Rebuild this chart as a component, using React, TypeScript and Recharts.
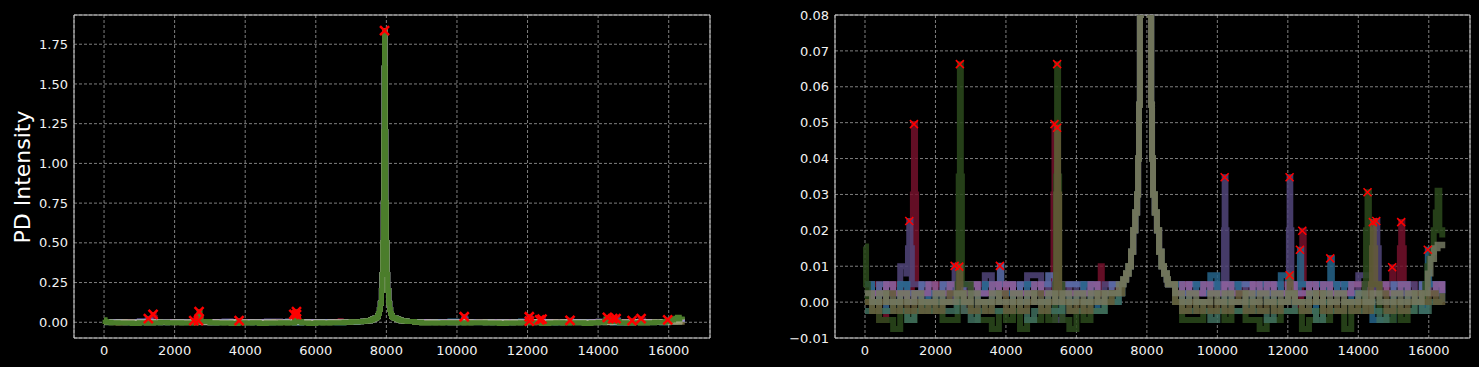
import {
  CartesianGrid,
  ComposedChart,
  Line,
  ReferenceArea,
  Scatter,
  XAxis,
  YAxis,
} from "recharts";

const sampleX = [
  0, 200, 400, 600, 800, 1000, 1200, 1400, 1600, 1800,
  2000, 2200, 2400, 2600, 2800, 3000, 3200, 3400, 3600, 3800,
  4000, 4200, 4400, 4600, 4800, 5000, 5200, 5400, 5600, 5800,
  6000, 6200, 6400, 6600, 6800, 7000, 7200, 7400, 7600, 7800,
  8000, 8200, 8400, 8600, 8800, 9000, 9200, 9400, 9600, 9800,
  10000, 10200, 10400, 10600, 10800, 11000, 11200, 11400, 11600, 11800,
  12000, 12200, 12400, 12600, 12800, 13000, 13200, 13400, 13600, 13800,
  14000, 14200, 14400, 14600, 14800, 15000, 15200, 15400, 15600, 15800,
  16000, 16200, 16383,
];

// the big resonance every trace shares
const mainPeakX = [
  7300, 7330, 7410, 7480, 7550, 7610, 7670, 7722, 7750, 7776,
  7803, 7830, 7860, 7880, 7900, 7915, 7930, 7940, 7948, 7956,
  7966, 7981, 7996, 8016, 8036, 8066, 8093, 8120, 8146, 8174,
  8226, 8286, 8346, 8416, 8486, 8566, 8596,
];
const mainPeakY = [
  0.005, 0.0063, 0.008, 0.01, 0.014, 0.02, 0.025, 0.03, 0.04, 0.055,
  0.08, 0.12, 0.2, 0.3, 0.5, 0.75, 1.2, 1.6, 1.835, 1.6,
  1.2, 0.75, 0.5, 0.3, 0.2, 0.12, 0.08, 0.055, 0.04, 0.03,
  0.025, 0.02, 0.014, 0.01, 0.008, 0.0063, 0.005,
];

const redNoise = [
  0.0025, 0.005, -0.005, 0.0025, 0.005, 0.0025, 0.0025, 0.005, 0.0025, 0.0025,
  0.005, 0.0025, 0.005, 0.005, -0.0025, 0.0025, 0.005, 0.0025, 0.0025, 0.005,
  0.0025, 0.0025, 0.005, 0.0025, 0.0025, 0.005, 0.0025, 0.0025, 0.005, 0.0025,
  0.0025, 0.005, 0.0025, 0.0025, 0.005, 0.0025, 0.005, 0.0025, 0.0025, 0.0025,
  0.0025, 0.0025, 0.0025, 0.0025, 0.0025, 0.005, 0.0025, 0.0025, 0.005, 0.0025,
  0.005, 0.0025, 0.0025, 0.005, 0.0025, 0.0025, 0.005, 0.0025, 0.0025, 0.005,
  0.0025, -0.0025, 0.0025, 0.005, 0.0025, 0.0025, 0.005, 0.0025, 0.0025, 0.005,
  0.0025, 0.005, 0.0025, 0.0025, 0.005, 0.0025, 0.0025, 0.005, 0.0025, 0.0025,
  0.005, 0.0025, 0.0025,
];
const redPeaks = [
  [1330, 0.005], [1360, 0.03], [1389, 0.0496], [1420, 0.03], [1450, 0.005],
  [5320, 0.005], [5350, 0.03], [5378, 0.0496], [5400, 0.03], [5430, 0.005],
  [6660, 0.005], [6690, 0.01], [6720, 0.005],
  [12380, 0.005], [12410, 0.0199], [12450, 0.005],
  [14920, 0.005], [14962, 0.0097], [15000, 0.005],
  [15150, 0.005], [15180, 0.015], [15217, 0.0223], [15250, 0.015], [15290, 0.005],
];

const purpleNoise = [
  0.0025, 0, 0.0025, 0.005, 0.0025, 0.01, 0.0025, 0.005, 0, 0.0025,
  0.0025, 0.005, 0, 0.0025, 0.005, 0.0025, 0.0025, 0.0075, 0.005, 0.0025,
  0.0025, 0.005, 0.0025, 0.0075, 0.0075, 0.0025, 0.005, -0.005, 0.0025, 0.005,
  0.0025, 0.005, 0.0025, 0.0025, 0.005, 0.005, 0.005, 0.0025, 0.0025, 0.0025,
  0.0025, 0.0025, 0.0025, 0.0025, 0.005, 0.0025, 0.005, 0.0025, 0.0025, 0.005,
  0.0025, 0.0025, 0.005, 0.0025, 0.005, 0.0025, 0.0025, 0.005, 0.0025, 0.0025,
  0.005, 0.0025, 0.0025, 0.005, 0.0025, 0.0025, 0.005, 0.0025, 0.005, 0.0025,
  0.0075, 0.0075, 0.0025, 0.0025, 0.005, 0.0025, 0.0025, 0.005, 0.0025, 0.005,
  0.0025, 0.005, 0.0025,
];
const purplePeaks = [
  [1180, 0.008], [1220, 0.015], [1256, 0.0226], [1290, 0.015], [1330, 0.005],
  [2500, 0.005], [2543, 0.0101], [2580, 0.005],
  [10170, 0.005], [10190, 0.02], [10207, 0.0348], [10230, 0.02], [10260, 0.005],
  [12010, 0.005], [12030, 0.02], [12050, 0.0348], [12070, 0.02], [12100, 0.005],
  [14460, 0.005], [14480, 0.015], [14509, 0.0226], [14540, 0.015], [14580, 0.005],
];

const blueNoise = [
  0.005, 0.0025, 0.005, 0.0025, 0, 0.005, 0.0025, 0.0025, 0.005, 0.0025,
  0.0025, 0.005, 0.0025, 0.0025, 0.005, 0.005, 0.0025, 0.005, 0.0025, 0.005,
  0.005, 0.0025, 0.005, 0.005, 0.0025, 0.005, 0.0075, 0.0025, 0.005, 0.005,
  0.005, 0.0025, 0.005, 0.0025, 0.0025, 0.005, 0.005, 0.0025, 0.0025, 0.0025,
  0.0025, 0.0025, 0.0025, 0.0025, 0.005, 0.0025, 0.005, 0.005, 0.0025, 0.005,
  0.0025, 0.005, 0.0025, 0.005, 0.005, 0.0025, 0.005, 0.0025, 0.005, 0.0025,
  0.0025, 0.005, 0.005, 0.0025, 0.005, 0.0025, 0.0025, 0.005, 0.005, 0.0025,
  0.0025, 0.005, 0.005, 0.0025, 0.0025, 0.005, 0.005, 0.0025, 0.0025, 0.005,
  0.005, 0.005, 0.0025,
];
const bluePeaks = [[3790, 0.005], [3828, 0.0101], [3870, 0.005]];

const tealNoise = [
  0.005, 0, 0.0025, -0.0025, 0.0025, 0.005, 0, 0.0025, -0.0025, 0.0025,
  0, 0.0025, 0.005, 0.0025, 0, -0.0025, 0.0025, 0.005, 0, 0.0025,
  0.0025, -0.0025, 0, 0.005, 0.0025, 0, 0.0025, -0.0025, 0.0025, 0,
  0.0025, 0.005, 0, -0.0025, 0.0025, 0, 0.0025, 0.0025, 0.0025, 0.0025,
  0.0025, 0.0025, 0.0025, 0.0025, 0.005, 0, 0.0025, 0.005, 0.0025, 0.0075,
  0.0025, 0, 0.005, 0.0025, -0.0025, 0.0025, 0.005, 0, 0.0025, 0.0075,
  0, 0.0025, 0.0025, -0.0025, 0.005, 0.0025, 0, 0.0025, 0.005, 0,
  0.0025, 0, -0.005, -0.005, -0.005, 0.0025, 0.005, 0, 0.0025, -0.0025,
  0.005, 0.0025, 0,
];
const tealPeaks = [
  [12310, 0.005], [12343, 0.0146], [12380, 0.005],
  [13160, 0.005], [13204, 0.0122], [13250, 0.005],
  [15930, 0.005], [15972, 0.0146], [16010, 0.005],
];

const pinkNoise = [
  0, 0.0025, 0.0025, 0.005, 0.0025, 0.0025, 0, 0.0025, 0.0025, 0.005,
  0.0025, 0.0025, 0.005, 0.0025, 0.0025, 0.005, 0.0025, 0.0025, 0.005, 0.0025,
  0.005, 0.0025, 0.0025, 0.0025, 0.005, 0.0025, 0.0025, 0.005, 0.0025, 0.0025,
  0.0025, 0.0025, 0.005, 0.0025, 0.0025, 0.0025, 0.0025, 0.0025, 0.0025, 0.0025,
  0.0025, 0.0025, 0.0025, 0.0025, 0.0025, 0.005, 0.0025, 0.0025, 0.005, 0.0025,
  0.0025, 0.005, 0.0025, 0.0025, 0.0025, 0.005, 0.0025, 0.005, 0.0025, 0.0025,
  0.005, 0.0025, 0.0025, 0.005, 0.0025, 0.005, 0.0025, 0.0025, 0.0025, 0.005,
  0.005, 0.0025, 0.0025, 0.005, 0.0025, 0.0025, 0.005, 0.0025, 0.0025, 0.0025,
  0.0025, 0.005, 0.0025,
];
const pinkPeaks: number[][] = [];

const greenNoise = [
  0, -0.0025, -0.005, -0.005, -0.0075, -0.0025, -0.005, -0.0025, 0, -0.0025,
  -0.0025, -0.005, -0.005, -0.0025, -0.005, -0.0025, -0.005, -0.005, -0.0075, -0.0025,
  -0.005, -0.0025, -0.0075, -0.005, -0.005, -0.0025, -0.005, -0.0025, -0.005, -0.0075,
  -0.0025, -0.005, -0.0025, -0.0025, 0, 0.0025, 0.0025, 0.0025, 0.0025, 0.0025,
  0.0025, 0.0025, 0.0025, 0.0025, 0, -0.005, -0.005, -0.005, -0.0025, -0.0025,
  -0.0025, -0.005, -0.0025, -0.0025, -0.005, -0.005, -0.0075, -0.005, -0.005, -0.0025,
  -0.0025, -0.0025, -0.0075, -0.005, -0.0025, -0.005, -0.0025, -0.0025, -0.0075, -0.0025,
  0, 0.0025, 0, -0.0025, -0.005, -0.0025, -0.005, -0.0025, 0, 0,
  0.005, 0.005, 0.005,
];
const greenPeaks = [
  [0, 0.0155], [30, 0.005], [80, 0],
  [2630, 0.005], [2660, 0.035], [2693, 0.0663], [2720, 0.035], [2750, 0.005],
  [5400, 0.005], [5425, 0.035], [5453, 0.0663], [5480, 0.035], [5510, 0.005],
  [14180, 0.005], [14220, 0.02], [14262, 0.0306], [14300, 0.02], [14350, 0.005],
  [15900, 0.005], [15960, 0.01], [16020, 0.012], [16080, 0.014], [16140, 0.02],
  [16200, 0.025], [16250, 0.031], [16300, 0.02], [16383, 0.018],
];

const mintNoise = [
  -0.0025, 0, -0.0025, -0.0025, 0, -0.0025, -0.005, -0.0025, 0, -0.0025,
  0, -0.0025, -0.0025, 0, -0.0025, -0.005, -0.0025, 0, -0.0025, -0.0025,
  -0.0025, 0, -0.0025, -0.005, -0.0025, 0, -0.0025, -0.0025, 0, -0.0025,
  -0.0025, 0, -0.0025, -0.0025, 0, 0, 0.0025, 0.0025, 0.0025, 0.0025,
  0.0025, 0.0025, 0.0025, 0.0025, 0, -0.0025, -0.0025, 0, -0.0025, -0.005,
  -0.0025, 0, -0.0025, -0.0025, 0, -0.0025, -0.0025, -0.005, 0, -0.0025,
  -0.0025, 0, -0.0025, -0.0025, -0.005, 0, -0.0025, -0.0025, 0, -0.0025,
  -0.0025, 0, -0.0025, -0.005, -0.0025, 0, -0.0025, -0.0025, 0, -0.0025,
  0, 0, 0,
];
const mintPeaks: number[][] = [];

const oliveNoise = [
  0, -0.0025, 0, 0.0025, -0.0025, 0, -0.0025, 0, -0.0025, 0,
  -0.0025, 0, 0.0025, -0.0025, 0, -0.0025, 0, -0.0025, 0, 0.0025,
  -0.0025, 0, -0.0025, 0, 0.0025, -0.0025, 0, -0.0025, 0, -0.0025,
  0, -0.0025, 0, 0.0025, 0, 0.0025, 0.0025, 0.0025, 0.0025, 0.0025,
  0.0025, 0.0025, 0.0025, 0.0025, 0, -0.0025, 0, -0.0025, 0, -0.0025,
  0, -0.0025, 0, 0.0025, -0.0025, 0, -0.0025, 0, -0.0025, 0,
  -0.0025, 0, -0.0025, 0, 0.0025, -0.0025, 0, -0.0025, 0, -0.0025,
  0, -0.0025, 0, 0.0025, -0.0025, 0, -0.0025, 0, 0.0025, 0,
  0.0025, 0, 0.0025,
];
const olivePeaks = [
  [2640, 0.0025], [2674, 0.0099], [2710, 0.0025],
  [5400, 0.0025], [5430, 0.03], [5453, 0.0486], [5480, 0.03], [5510, 0.0025],
  [12020, 0.0025], [12050, 0.0075], [12080, 0.0025],
  [14360, 0.005], [14390, 0.015], [14413, 0.0223], [14440, 0.015], [14480, 0.005],
];

const sageNoise = [
  0.0025, 0, 0.0025, 0, 0, 0.0025, 0, 0.0025, 0, 0,
  0.0025, 0, 0, 0.0025, 0, 0.0025, 0, 0, 0.0025, 0,
  0, 0.0025, 0, 0.0025, 0, 0, 0.0025, 0, 0.0025, 0,
  0.0025, 0, 0.0025, 0, 0.0025, 0.0025, 0.005, 0.0025, 0.0025, 0.0025,
  0.0025, 0.0025, 0.0025, 0.0025, 0.0025, 0, 0.0025, 0, 0, 0.0025,
  0, 0.0025, 0, 0, 0.0025, 0, 0.0025, 0, 0.0025, 0,
  0.0025, 0, 0, 0.0025, 0, 0.0025, 0, 0.0025, 0, 0,
  0.0025, 0, 0.0025, 0, 0, 0.0025, 0, 0.0025, 0, 0.0025,
  0.0025, 0.0025, 0.0025,
];
const sagePeaks = [
  [15900, 0.0025], [15972, 0.008], [16050, 0.012], [16150, 0.015],
  [16250, 0.016], [16383, 0.015],
];

// red crosses: detected peaks
const peakMarkX = [
  1256, 1389, 2543, 2674, 2693, 3828, 5378, 5453, 5453, 7948, 10207,
  12050, 12050, 12343, 12410, 13204, 14262, 14413, 14509, 14962, 15217, 15972,
];
const peakMarkY = [
  0.0226, 0.0496, 0.0101, 0.0099, 0.0663, 0.0101, 0.0496, 0.0663, 0.0486, 1.835, 0.0348,
  0.0348, 0.0075, 0.0146, 0.0199, 0.0122, 0.0306, 0.0223, 0.0226, 0.0097, 0.0223, 0.0146,
];

const xTicks = [0, 2000, 4000, 6000, 8000, 10000, 12000, 14000, 16000];
const leftYTicks = [0, 0.25, 0.5, 0.75, 1, 1.25, 1.5, 1.75];
const rightYTicks = [-0.01, 0, 0.01, 0.02, 0.03, 0.04, 0.05, 0.06, 0.07, 0.08];

const X_DOMAIN: [number, number] = [-851, 17170];

type Pt = { x: number; y: number };

function buildSeries(noise: number[], peaks: number[][]): Pt[] {
  const shape = [...peaks, ...mainPeakX.map((x, i) => [x, mainPeakY[i]])];
  const base = sampleX
    .map((x, i) => ({ x, y: noise[i] }))
    .filter((p) => !shape.some((s) => Math.abs(s[0] - p.x) < 60));
  return [...base, ...shape.map(([x, y]) => ({ x, y }))].sort((a, b) => a.x - b.x);
}

// bright = full-scale panel, dim = zoomed panel
const traces = {
  red: { bright: "#b81440", dim: "#74102c", data: buildSeries(redNoise, redPeaks) },
  purple: { bright: "#7d6abf", dim: "#51457a", data: buildSeries(purpleNoise, purplePeaks) },
  blue: { bright: "#8099e0", dim: "#5a6eaa", data: buildSeries(blueNoise, bluePeaks) },
  teal: { bright: "#2f90c8", dim: "#26648a", data: buildSeries(tealNoise, tealPeaks) },
  pink: { bright: "#d08ed8", dim: "#8e5c96", data: buildSeries(pinkNoise, pinkPeaks) },
  green: { bright: "#4b7d2b", dim: "#2c4a1c", data: buildSeries(greenNoise, greenPeaks) },
  mint: { bright: "#6fbf9f", dim: "#3f6f5e", data: buildSeries(mintNoise, mintPeaks) },
  olive: { bright: "#a08c50", dim: "#655c38", data: buildSeries(oliveNoise, olivePeaks) },
  sage: { bright: "#b4bc9c", dim: "#737860", data: buildSeries(sageNoise, sagePeaks) },
};

const marks = peakMarkX.map((x, i) => ({ x, y: peakMarkY[i] }));

const tickStyle = { fill: "#f2f2f2", fontSize: 13, fontFamily: "DejaVu Sans" };

function crossShape(size: number, width: number) {
  return (props: any) => {
    const { cx, cy } = props;
    if (cx == null || cy == null) return <g />;
    const h = size / 2;
    return (
      <path
        d={`M${cx - h},${cy - h}L${cx + h},${cy + h}M${cx - h},${cy + h}L${cx + h},${cy - h}`}
        stroke="#ff0000"
        strokeWidth={width}
        fill="none"
      />
    );
  };
}

type Layer = { color: string; data: Pt[]; opacity: number };

function Panel(props: {
  left: number;
  width: number;
  yWidth: number;
  marginRight: number;
  yDomain: [number, number];
  yTicks: number[];
  fmt: (v: number) => string;
  layers: Layer[];
  lineWidth: number;
  marks: Pt[];
  markSize: number;
  markWidth: number;
}) {
  const { yDomain } = props;
  return (
    <div style={{ position: "absolute", left: props.left, top: 0 }}>
      <ComposedChart
        width={props.width}
        height={367}
        margin={{ top: 15, right: props.marginRight, bottom: 0, left: 0 }}
      >
        <CartesianGrid stroke="#a0a0a0" strokeDasharray="3 2" strokeWidth={0.8} />
        <XAxis
          type="number"
          dataKey="x"
          domain={X_DOMAIN}
          ticks={xTicks}
          allowDataOverflow
          interval={0}
          height={29}
          axisLine={false}
          tickLine={false}
          tick={tickStyle}
        />
        <YAxis
          type="number"
          dataKey="y"
          domain={yDomain}
          ticks={props.yTicks}
          allowDataOverflow
          interval={0}
          width={props.yWidth}
          axisLine={false}
          tickLine={false}
          tickMargin={0}
          tick={tickStyle}
          tickFormatter={props.fmt}
        />
        {props.layers.map((s, i) => (
          <Line
            key={i}
            data={s.data}
            dataKey="y"
            type="stepAfter"
            stroke={s.color}
            strokeOpacity={s.opacity}
            strokeWidth={props.lineWidth}
            dot={false}
            activeDot={false}
            isAnimationActive={false}
          />
        ))}
        <Scatter
          data={props.marks}
          dataKey="y"
          shape={crossShape(props.markSize, props.markWidth)}
          isAnimationActive={false}
        />
        <ReferenceArea
          x1={X_DOMAIN[0]}
          x2={X_DOMAIN[1]}
          y1={yDomain[0]}
          y2={yDomain[1]}
          fill="none"
          stroke="#cfcfcf"
          strokeWidth={1}
          ifOverflow="visible"
        />
      </ComposedChart>
    </div>
  );
}

export default function App() {
  const t = traces;
  const leftLayers: Layer[] = [
    t.red, t.purple, t.blue, t.teal, t.pink, t.mint, t.olive, t.sage,
  ].map((s) => ({ color: s.bright, data: s.data, opacity: 0.7 }));
  leftLayers.push({ color: t.green.bright, data: t.green.data, opacity: 1 });

  const rightLayers: Layer[] = [
    t.red, t.purple, t.blue, t.teal, t.pink, t.green, t.mint, t.olive, t.sage,
  ].map((s) => ({ color: s.dim, data: s.data, opacity: 0.85 }));

  return (
    <div
      style={{
        position: "fixed",
        left: 0,
        top: 0,
        width: 1479,
        height: 367,
        background: "#000",
        overflow: "hidden",
      }}
    >
      <div
        style={{
          position: "absolute",
          left: 22,
          top: 177,
          transform: "translate(-50%, -50%) rotate(-90deg)",
          color: "#ffffff",
          fontFamily: "DejaVu Sans",
          fontSize: 22,
          whiteSpace: "nowrap",
        }}
      >
        PD Intensity
      </div>
      <Panel
        left={0}
        width={720}
        yWidth={74}
        marginRight={10}
        yDomain={[-0.099, 1.934]}
        yTicks={leftYTicks}
        fmt={(v) => v.toFixed(2)}
        layers={leftLayers}
        lineWidth={5}
        marks={marks}
        markSize={9}
        markWidth={2.5}
      />
      <Panel
        left={760}
        width={719}
        yWidth={75}
        marginRight={9}
        yDomain={[-0.01, 0.08]}
        yTicks={rightYTicks}
        fmt={(v) => (v < 0 ? "\u2212" + Math.abs(v).toFixed(2) : v.toFixed(2))}
        layers={rightLayers}
        lineWidth={6}
        marks={marks.filter((m) => m.y <= 0.08)}
        markSize={8}
        markWidth={1.6}
      />
    </div>
  );
}
